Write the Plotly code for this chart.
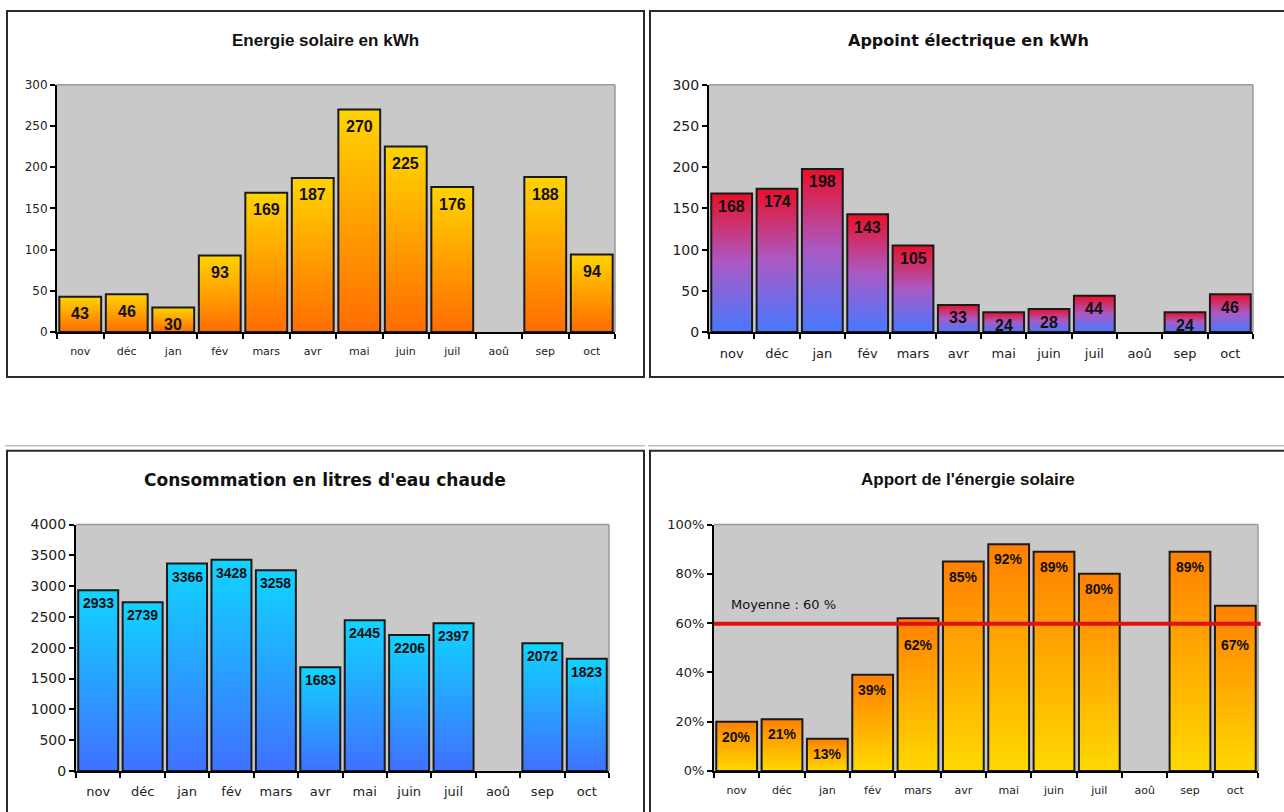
import plotly.graph_objects as go

# ---- data -------------------------------------------------------------
mois = ["nov", "déc", "jan", "fév", "mars", "avr", "mai", "juin", "juil", "aoû", "sep", "oct"]
energie_solaire = [43, 46, 30, 93, 169, 187, 270, 225, 176, None, 188, 94]          # kWh
appoint_electrique = [168, 174, 198, 143, 105, 33, 24, 28, 44, None, 24, 46]         # kWh
consommation_eau = [2933, 2739, 3366, 3428, 3258, 1683, 2445, 2206, 2397, None, 2072, 1823]  # litres
apport_solaire = [20, 21, 13, 39, 62, 85, 92, 89, 80, None, 89, 67]                  # %

# ---- page geometry (pixels) ---------------------------------------------
W, H = 1284, 812
# vertical placement helpers: page pixel -> paper fraction
Y_OFF, Y_SCALE = 7.0, 0.983


def px(x):
    return x / W


def py(y):
    return 1 - ((y - Y_OFF) / Y_SCALE) / H


TITLE_BOLD_NARROW = "Liberation Sans"
VERDANA_LIKE = "DejaVu Sans"
NARROW_BOLD = "Liberation Sans Narrow, Liberation Sans"

panels = [
    dict(title="Energie solaire en kWh", values=energie_solaire,
         frame=(7, 10, 644, 377), area=(57, 84, 615, 332), title_y=40, title_x=325,
         yrange=[0, 300], dtick=50,
         colors=[[0, "#ff6c00"], [1, "#ffd400"]],
         title_font=dict(family=TITLE_BOLD_NARROW, size=17, color="#111"),
         ytick_size=12, xtick_size=11,
         label_font=dict(family=NARROW_BOLD, size=16, color="#111"), label_shift=-17,
         fmt=lambda v: f"{v}"),
    dict(title="Appoint électrique en kWh", values=appoint_electrique,
         frame=(650, 10, 1300, 377), area=(709, 84, 1253, 332), title_y=40, title_x=968,
         yrange=[0, 300], dtick=50,
         colors=[[0, "#4678ff"], [0.5, "#aa5ac4"], [1, "#e8102a"]],
         title_font=dict(family=VERDANA_LIKE, size=16, color="#111"),
         ytick_size=14, xtick_size=13,
         label_font=dict(family="Liberation Sans", size=16, color="#111"), label_shift=-13,
         fmt=lambda v: f"{v}"),
    dict(title="Consommation en litres d'eau chaude", values=consommation_eau,
         frame=(7, 451, 644, 840), area=(76, 525, 609, 772), title_y=480, title_x=325,
         yrange=[0, 4000], dtick=500,
         colors=[[0, "#4070ff"], [1, "#10d4ff"]],
         title_font=dict(family=VERDANA_LIKE, size=17, color="#111"),
         ytick_size=14, xtick_size=13,
         label_font=dict(family="Liberation Sans", size=14, color="#111"), label_shift=-13,
         fmt=lambda v: f"{v}"),
    dict(title="Apport de l'énergie solaire", values=apport_solaire,
         frame=(650, 451, 1300, 840), area=(714, 525, 1258, 772), title_y=480, title_x=968,
         yrange=[0, 100], dtick=20,
         colors=[[0, "#ffd800"], [1, "#ff8000"]],
         title_font=dict(family=TITLE_BOLD_NARROW, size=17, color="#111"),
         ytick_size=13, xtick_size=11,
         label_font=dict(family=NARROW_BOLD, size=14, color="#111"), label_shift=-15,
         fmt=lambda v: f"{v}%"),
]

fig = go.Figure()
shapes = []
annotations = []
half_width = 0.45

for k, p in enumerate(panels, start=1):
    xa = "x" if k == 1 else f"x{k}"
    ya = "y" if k == 1 else f"y{k}"
    x0, y0, x1, y1 = p["area"]

    # axes
    fig.update_layout(**{
        f"xaxis{'' if k == 1 else k}": dict(
            domain=[px(x0), px(x1)], anchor=ya, range=[-0.5, 11.5],
            tickvals=list(range(12)), ticktext=mois, ticks="", showgrid=False,
            zeroline=False, showline=True, linecolor="#000", linewidth=2,
            tickfont=dict(family=VERDANA_LIKE, size=p["xtick_size"], color="#222"),
            ticklabelstandoff=8, fixedrange=True,
            minor=dict(tickvals=[i - 0.5 for i in range(13)], ticks="outside",
                       ticklen=5, tickcolor="#000", tickwidth=1.5, showgrid=False),
        ),
        f"yaxis{'' if k == 1 else k}": dict(
            domain=[py(y1), py(y0)], anchor=xa, range=p["yrange"], dtick=p["dtick"],
            ticks="outside", ticklen=5, tickcolor="#000", tickwidth=1.5,
            ticksuffix="%" if k == 4 else "",
            showgrid=False, zeroline=False, showline=True, linecolor="#000", linewidth=2,
            tickfont=dict(family=VERDANA_LIKE, size=p["ytick_size"], color="#222"),
            fixedrange=True,
        ),
    })

    # gradient bars
    for i, v in enumerate(p["values"]):
        if v is None:
            continue
        fig.add_trace(go.Scatter(
            x=[i - half_width, i - half_width, i + half_width, i + half_width, i - half_width],
            y=[0, v, v, 0, 0], xaxis=xa, yaxis=ya,
            mode="lines", fill="toself",
            fillgradient=dict(type="vertical", colorscale=p["colors"]),
            line=dict(color="#1a1a1a", width=2),
            hoverinfo="skip", showlegend=False,
        ))

    # plot-area border (top / right)
    shapes.append(dict(type="line", xref=f"{xa} domain", yref=f"{ya} domain",
                       x0=0, x1=1, y0=1, y1=1, line=dict(color="#9a9a9a", width=1.5), layer="below"))
    shapes.append(dict(type="line", xref=f"{xa} domain", yref=f"{ya} domain",
                       x0=1, x1=1, y0=0, y1=1, line=dict(color="#9a9a9a", width=1.5), layer="below"))

    # chart frame
    fx0, fy0, fx1, fy1 = p["frame"]
    shapes.append(dict(type="rect", xref="paper", yref="paper",
                       x0=px(fx0), x1=px(fx1), y0=py(fy1), y1=py(fy0),
                       line=dict(color="#2a2a2a", width=2)))

    # title
    annotations.append(dict(text=f"<b>{p['title']}</b>", xref="paper", yref="paper",
                            x=px(p["title_x"]), y=py(p["title_y"]),
                            xanchor="center", yanchor="middle",
                            showarrow=False, font=p["title_font"]))

    # value labels
    vals = [v for v in p["values"] if v is not None]
    mean = sum(vals) / len(vals)
    for i, v in enumerate(p["values"]):
        if v is None:
            continue
        anchor_y, shift = v, p["label_shift"]
        if k == 4 and mean < v < mean + 10:
            anchor_y, shift = mean, -21
        annotations.append(dict(text=f"<b>{p['fmt'](v)}</b>", xref=xa, yref=ya,
                                x=i, y=anchor_y, yshift=shift, xanchor="center",
                                yanchor="middle", showarrow=False, font=p["label_font"]))

    if k == 4:
        # average line
        shapes.append(dict(type="line", xref=f"{xa} domain", yref=ya,
                           x0=0, x1=1.005, y0=mean, y1=mean,
                           line=dict(color="#e01010", width=4)))
        annotations.append(dict(text=f"Moyenne : {mean:.0f} %", xref=f"{xa} domain", yref=ya,
                                x=0.028, y=mean, yshift=19, xanchor="left", yanchor="middle",
                                showarrow=False,
                                font=dict(family=VERDANA_LIKE, size=13, color="#111")))

# light separator line above the lower charts
shapes.append(dict(type="line", xref="paper", yref="paper", x0=px(5), x1=px(645),
                   y0=py(446), y1=py(446), line=dict(color="#bdbdbd", width=1.5)))
shapes.append(dict(type="line", xref="paper", yref="paper", x0=px(648), x1=1,
                   y0=py(446), y1=py(446), line=dict(color="#bdbdbd", width=1.5)))

fig.update_layout(
    width=W, height=H, margin=dict(l=0, r=0, t=0, b=0),
    paper_bgcolor="#ffffff", plot_bgcolor="#c9c9c9",
    shapes=shapes, annotations=annotations, showlegend=False,
)

fig.write_html("out.html")
